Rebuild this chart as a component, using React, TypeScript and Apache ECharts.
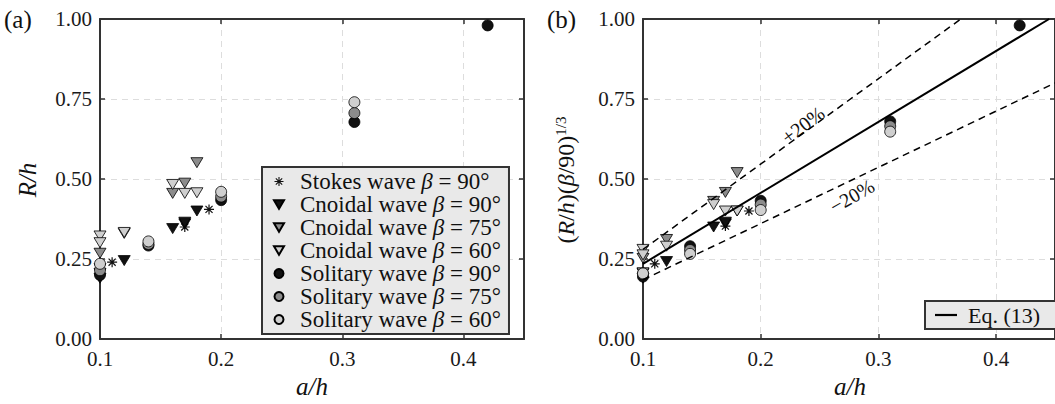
import React, { useEffect, useRef } from "react";
import * as echarts from "echarts";

const FONT = "Liberation Serif";

// ---- data ----
const xMin = 0.1;
const xMax = 0.45;
const yMin = 0;
const yMax = 1;

// Panel (a): R/h
const stokes90A = [[0.11, 0.24], [0.17, 0.35], [0.19, 0.405]];
const cnoidal90A = [[0.1, 0.19], [0.1, 0.205], [0.12, 0.245], [0.16, 0.345], [0.17, 0.36], [0.17, 0.365], [0.18, 0.4]];
const cnoidal75A = [[0.1, 0.268], [0.1, 0.22], [0.12, 0.33], [0.16, 0.455], [0.17, 0.487], [0.18, 0.551]];
const cnoidal60A = [[0.1, 0.322], [0.1, 0.301], [0.12, 0.333], [0.16, 0.483], [0.17, 0.455], [0.18, 0.457]];
const solitary90A = [[0.1, 0.2], [0.14, 0.292], [0.2, 0.434], [0.31, 0.678], [0.42, 0.98]];
const solitary75A = [[0.1, 0.215], [0.14, 0.297], [0.2, 0.445], [0.31, 0.706]];
const solitary60A = [[0.1, 0.235], [0.14, 0.305], [0.2, 0.46], [0.31, 0.74]];

// Panel (b): (R/h)(beta/90)^(1/3)
const stokes90B = [[0.11, 0.235], [0.17, 0.353], [0.19, 0.4]];
const cnoidal90B = [[0.1, 0.19], [0.1, 0.205], [0.12, 0.242], [0.16, 0.35], [0.17, 0.36], [0.17, 0.365], [0.18, 0.4]];
const cnoidal75B = [[0.1, 0.252], [0.1, 0.207], [0.12, 0.311], [0.16, 0.43], [0.17, 0.458], [0.18, 0.52]];
const cnoidal60B = [[0.1, 0.28], [0.1, 0.263], [0.12, 0.29], [0.16, 0.42], [0.17, 0.4], [0.18, 0.4]];
const solitary90B = [[0.1, 0.195], [0.14, 0.29], [0.2, 0.432], [0.31, 0.68], [0.42, 0.98]];
const solitary75B = [[0.1, 0.203], [0.14, 0.278], [0.2, 0.42], [0.31, 0.665]];
const solitary60B = [[0.1, 0.205], [0.14, 0.266], [0.2, 0.403], [0.31, 0.648]];

const eq13 = [[0.1, 0.235], [0.445, 1.0]];
const plus20 = [[0.1, 0.28], [0.37, 1.0]];
const minus20 = [[0.1, 0.185], [0.45, 0.8]];

const seriesNames = [
  "Stokes wave β = 90°",
  "Cnoidal wave β = 90°",
  "Cnoidal wave β = 75°",
  "Cnoidal wave β = 60°",
  "Solitary wave β = 90°",
  "Solitary wave β = 75°",
  "Solitary wave β = 60°",
];
const eqName = "Eq. (13)";

// ---- styles ----
const BLACK = "#111111";
const MID = "#8c8c8c";
const LIGHT = "#cfcfcf";
const AXIS = "#333333";

const ASTERISK =
  "path://M-1,-0.12L1,-0.12L1,0.12L-1,0.12Z" +
  "M-0.12,-1L0.12,-1L0.12,1L-0.12,1Z" +
  "M0.622,0.792L-0.792,-0.622L-0.622,-0.792L0.792,0.622Z" +
  "M0.792,-0.622L-0.622,0.792L-0.792,0.622L0.622,-0.792Z";
const TRI_DOWN = "path://M-1,-0.85L1,-0.85L0,0.85Z";

const styleFor = [
  { symbol: ASTERISK, size: [10, 10], legendSize: 9, color: BLACK, border: 0 },
  { symbol: TRI_DOWN, size: [12, 10], legendSize: 9, color: BLACK, border: 0.8 },
  { symbol: TRI_DOWN, size: [12, 10], legendSize: 9, color: MID, border: 0.8 },
  { symbol: TRI_DOWN, size: [12, 10], legendSize: 9, color: LIGHT, border: 0.8 },
  { symbol: "circle", size: [11, 11], legendSize: 9, color: BLACK, border: 0.8 },
  { symbol: "circle", size: [11, 11], legendSize: 9, color: MID, border: 0.8 },
  { symbol: "circle", size: [11, 11], legendSize: 9, color: LIGHT, border: 0.8 },
];

const dataA = [stokes90A, cnoidal90A, cnoidal75A, cnoidal60A, solitary90A, solitary75A, solitary60A];
const dataB = [stokes90B, cnoidal90B, cnoidal75B, cnoidal60B, solitary90B, solitary75B, solitary60B];

function richName(name: string) {
  const parts = name.split("β");
  if (parts.length < 2) return `{n|${name}}`;
  return `{f|${parts[0]}}{g|β}{n|${parts[1]}}`;
}

function makeAxes(gridIndex: number) {
  const common = {
    gridIndex,
    type: "value" as const,
    axisLine: { show: true, onZero: false, lineStyle: { color: AXIS, width: 2 } },
    axisTick: { show: true, inside: true, length: 5, lineStyle: { color: AXIS, width: 1.5 } },
  };
  const xs = [
    {
      ...common,
      position: "bottom",
      min: xMin,
      max: xMax,
      interval: 0.1,
      axisLabel: {
        show: true,
        showMaxLabel: false,
        margin: 9,
        fontFamily: FONT,
        fontSize: 21,
        color: "#1a1a1a",
        formatter: (v: number) => (Math.abs(v - 0.45) < 1e-6 ? "" : v.toFixed(1)),
      },
      splitLine: { show: true, lineStyle: { color: "#dddddd", type: [6, 5], width: 1 } },
    },
    {
      ...common,
      position: "top",
      min: xMin,
      max: xMax,
      interval: 0.1,
      axisLabel: { show: false },
      splitLine: { show: false },
    },
  ];
  const ys = [
    {
      ...common,
      position: "left",
      min: yMin,
      max: yMax,
      interval: 0.25,
      axisLabel: {
        show: true,
        margin: 8,
        fontFamily: FONT,
        fontSize: 21,
        color: "#1a1a1a",
        formatter: (v: number) => v.toFixed(2),
      },
      splitLine: { show: true, lineStyle: { color: "#dddddd", type: [6, 5], width: 1 } },
    },
    {
      ...common,
      position: "right",
      min: yMin,
      max: yMax,
      interval: 0.25,
      axisLabel: { show: false },
      splitLine: { show: false },
    },
  ];
  return { xs, ys };
}

export default function App() {
  const ref = useRef<HTMLDivElement>(null);

  useEffect(() => {
    if (!ref.current) return;
    const chart = echarts.init(ref.current, undefined, { renderer: "svg" });

    const a = makeAxes(0);
    const b = makeAxes(1);

    const scatterSeries: any[] = [];
    [dataA, dataB].forEach((panel, p) => {
      panel.forEach((d, i) => {
        const st = styleFor[i];
        scatterSeries.push({
          name: seriesNames[i],
          type: "scatter",
          xAxisIndex: p * 2,
          yAxisIndex: p * 2,
          data: d,
          symbol: st.symbol,
          symbolSize: st.size,
          itemStyle: {
            color: st.color,
            borderColor: "#000",
            borderWidth: st.border,
            opacity: 1,
          },
          z: 3,
        });
      });
    });

    const lineSeries: any[] = [
      {
        name: eqName,
        type: "line",
        xAxisIndex: 2,
        yAxisIndex: 2,
        data: eq13,
        symbol: "none",
        showSymbol: false,
        itemStyle: { color: "#000" },
        lineStyle: { color: "#000", width: 2 },
        z: 4,
      },
      {
        name: "+20%",
        type: "line",
        xAxisIndex: 2,
        yAxisIndex: 2,
        data: plus20,
        symbol: "none",
        showSymbol: false,
        itemStyle: { color: "#000" },
        lineStyle: { color: "#000", width: 1.5, type: [7, 5] },
        z: 4,
      },
      {
        name: "−20%",
        type: "line",
        xAxisIndex: 2,
        yAxisIndex: 2,
        data: minus20,
        symbol: "none",
        showSymbol: false,
        itemStyle: { color: "#000" },
        lineStyle: { color: "#000", width: 1.5, type: [7, 5] },
        z: 4,
      },
    ];

    const richText = {
      f: { fontFamily: FONT, fontSize: 23, color: "#111", lineHeight: 22.7, padding: [0, 0, 0, 11] },
      n: { fontFamily: FONT, fontSize: 23, color: "#111", lineHeight: 22.7 },
      g: { fontFamily: FONT, fontSize: 23, fontStyle: "italic", color: "#111", lineHeight: 22.7 },
    };

    chart.setOption({
      animation: false,
      grid: [
        { left: 100, top: 19, width: 424, height: 320 },
        { left: 643, top: 19, width: 420, height: 320 },
      ],
      xAxis: [...a.xs, ...b.xs.map((x) => ({ ...x, gridIndex: 1 }))],
      yAxis: [...a.ys, ...b.ys.map((y) => ({ ...y, gridIndex: 1 }))],
      legend: [
        {
          data: seriesNames.map((n, i) => ({ name: n, icon: styleFor[i].symbol })),
          orient: "vertical",
          left: 262,
          top: 167,
          width: 250,
          backgroundColor: "#e9e9e9",
          borderColor: "#333",
          borderWidth: 2,
          borderRadius: 0,
          padding: [3, 8, 3, 11],
          itemGap: 0,
          itemWidth: 10,
          itemHeight: 9,
          selectedMode: false,
          textStyle: { fontFamily: FONT, fontSize: 23, color: "#111", rich: richText },
          formatter: (name: string) => richName(name),
        },
        {
          data: [{ name: eqName, icon: "path://M0,0L22,0L22,2.2L0,2.2Z", itemStyle: { color: "#000" } }],
          orient: "vertical",
          left: 925,
          top: 301,
          backgroundColor: "#e9e9e9",
          borderColor: "#333",
          borderWidth: 2,
          borderRadius: 0,
          padding: [3, 40, 3, 10],
          itemWidth: 22,
          itemHeight: 2.2,
          selectedMode: false,
          textStyle: {
            fontFamily: FONT,
            fontSize: 22,
            color: "#111",
            lineHeight: 22,
            padding: [0, 0, 0, 6],
          },
        },
      ],
      series: [...scatterSeries, ...lineSeries],
      graphic: [
        {
          type: "text",
          x: 4,
          y: 7,
          style: { text: "(a)", font: `25px ${FONT}`, fill: "#111" },
        },
        {
          type: "text",
          x: 547,
          y: 7,
          style: { text: "(b)", font: `25px ${FONT}`, fill: "#111" },
        },
        {
          type: "text",
          x: 27,
          y: 180,
          rotation: Math.PI / 2,
          style: {
            text: "R/h",
            font: `italic 25px ${FONT}`,
            fill: "#111",
            align: "center",
            verticalAlign: "middle",
          },
        },
        {
          type: "text",
          x: 566,
          y: 180,
          rotation: Math.PI / 2,
          style: {
            text: "{n|(}{i|R}{n|/}{i|h}{n|)(}{i|β}{n|/90)}{s|1/3}",
            fill: "#111",
            align: "center",
            verticalAlign: "middle",
            rich: {
              n: { fontFamily: FONT, fontSize: 24, fill: "#111", lineHeight: 26 },
              i: { fontFamily: FONT, fontSize: 24, fontStyle: "italic", fill: "#111", lineHeight: 26 },
              s: { fontFamily: FONT, fontSize: 15, fill: "#111", verticalAlign: "top", lineHeight: 26 },
            },
          },
        },
        {
          type: "text",
          x: 312,
          y: 386,
          style: {
            text: "a/h",
            font: `italic 25px ${FONT}`,
            fill: "#111",
            align: "center",
            verticalAlign: "middle",
          },
        },
        {
          type: "text",
          x: 850,
          y: 386,
          style: {
            text: "a/h",
            font: `italic 25px ${FONT}`,
            fill: "#111",
            align: "center",
            verticalAlign: "middle",
          },
        },
        {
          type: "text",
          x: 803,
          y: 125,
          rotation: (37 * Math.PI) / 180,
          style: {
            text: "+20%",
            font: `20px ${FONT}`,
            fill: "#111",
            align: "center",
            verticalAlign: "middle",
          },
        },
        {
          type: "text",
          x: 852,
          y: 196,
          rotation: (30 * Math.PI) / 180,
          style: {
            text: "−20%",
            font: `20px ${FONT}`,
            fill: "#111",
            align: "center",
            verticalAlign: "middle",
          },
        },
      ],
    });

    return () => chart.dispose();
  }, []);

  return (
    <div
      ref={ref}
      style={{ position: "absolute", left: 0, top: 0, width: 1055, height: 404, background: "#fff" }}
    />
  );
}
